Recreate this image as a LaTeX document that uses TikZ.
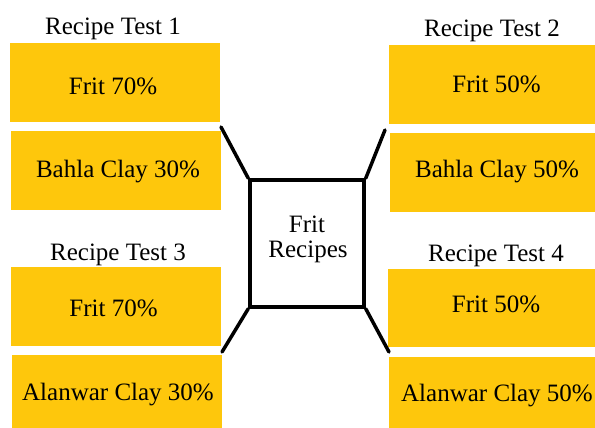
\documentclass[tikz,border=0pt]{standalone}
\usepackage{fontspec}
\setmainfont{Liberation Serif}
\definecolor{gold}{RGB}{254,199,12}
\begin{document}
\begin{tikzpicture}[x=1pt,y=-1pt,
  ybox/.style={fill=gold,draw=none},
  ttl/.style={font=\fontsize{25}{26}\selectfont,inner sep=0pt,anchor=base},
  conn/.style={line width=3.5pt,line cap=round}]
\useasboundingbox (0,0) rectangle (595,428);
% left top
\node[ttl] (t1) at (113,35) {Recipe Test 1};
\path[ybox] (10,43) rectangle (220,122);
\node[ttl] (a1) at (113,95) {Frit 70\%};
\path[ybox] (11,131) rectangle (221,210);
\node[ttl] (b1) at (118,177) {Bahla Clay 30\%};
% right top
\node[ttl] (t2) at (492,37) {Recipe Test 2};
\path[ybox] (389,45) rectangle (595,124);
\node[ttl] (a2) at (496.5,93) {Frit 50\%};
\path[ybox] (390,133) rectangle (595,212);
\node[ttl] (b2) at (497,177) {Bahla Clay 50\%};
% left bottom
\node[ttl] (t3) at (118,260) {Recipe Test 3};
\path[ybox] (11,267) rectangle (221,346);
\node[ttl] (a3) at (113.5,316) {Frit 70\%};
\path[ybox] (12,355) rectangle (222,430);
\node[ttl] (b3) at (118,400) {Alanwar Clay 30\%};
% right bottom
\node[ttl] (t4) at (496,261) {Recipe Test 4};
\path[ybox] (388,269) rectangle (595,347);
\node[ttl] (a4) at (496,312) {Frit 50\%};
\path[ybox] (389,357) rectangle (595,430);
\node[ttl] (b4) at (497,401) {Alanwar Clay 50\%};
% center
\node[draw=black,line width=3.5pt,minimum width=114pt,minimum height=127pt,inner sep=0pt] (c) at (307,243.5) {};
\node[ttl] (ct1) at (307,232) {Frit};
\node[ttl] (ct2) at (308,257) {Recipes};
\coordinate (p1) at (221,127);
\coordinate (p2) at (385,130);
\coordinate (p3) at (222,352);
\coordinate (p4) at (389,352);
\draw[conn] (p1) -- (c.north west);
\draw[conn] (p2) -- (c.north east);
\draw[conn] (p3) -- (c.south west);
\draw[conn] (p4) -- (c.south east);
\end{tikzpicture}
\end{document}
